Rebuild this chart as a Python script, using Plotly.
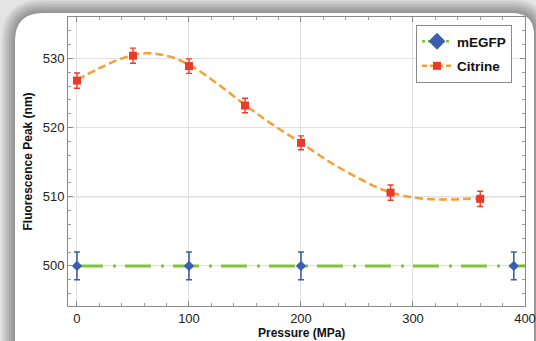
import plotly.graph_objects as go

# ---- data ----
megfp_x = [0, 100, 200, 390]
megfp_y = [500, 500, 500, 500]
megfp_err = [2.0, 2.0, 2.0, 2.0]
megfp_fit_x = [0, 400]
megfp_fit_y = [500, 500]

citrine_x = [0, 50, 100, 150, 200, 280, 360]
citrine_y = [526.8, 530.4, 528.9, 523.2, 517.8, 510.6, 509.7]
citrine_err = [1.1, 1.1, 1.05, 1.05, 1.0, 1.1, 1.1]

citrine_fit_x = [0, 20, 40, 60, 80, 100, 125, 150, 175, 200, 225, 250, 275, 300, 325, 350, 360]
citrine_fit_y = [526.9, 528.6, 530.0, 530.75, 530.4, 529.1, 526.4, 523.3, 520.4, 517.8,
                 515.1, 512.8, 510.9, 509.9, 509.6, 509.7, 509.8]

x_ticks = [0, 100, 200, 300, 400]
y_ticks = [500, 510, 520, 530]
ref_line_y = 510

# ---- geometry helpers (pixel -> paper) ----
W, H = 536, 341
ML, MR, MT, MB = 68, 11, 17, 35
PW, PH = W - ML - MR, H - MT - MB


def px(x):
    return (x - ML) / PW


def py(y):
    return 1 - (y - MT) / PH


def rrect(x0, y0, x1, y1, r0, r1):
    pts = [
        f"M {px(x0)} {py(y0 + r0)}",
        f"Q {px(x0)} {py(y0)} {px(x0 + r0)} {py(y0)}",
        f"L {px(x1 - r1)} {py(y0)}",
        f"Q {px(x1)} {py(y0)} {px(x1)} {py(y0 + r1)}",
        f"L {px(x1)} {py(y1)}",
        f"L {px(x0)} {py(y1)}",
        "Z",
    ]
    return " ".join(pts)


FONT = "Liberation Sans, Arial, Helvetica, sans-serif"

fig = go.Figure()

# fit lines
fig.add_trace(go.Scatter(
    x=megfp_fit_x, y=megfp_fit_y, mode="lines", showlegend=False,
    line=dict(color="#7cc734", width=3, dash="26px,10px,3px,9px"),
    hoverinfo="skip"))
fig.add_trace(go.Scatter(
    x=citrine_fit_x, y=citrine_fit_y, mode="lines", showlegend=False,
    line=dict(color="#f7a033", width=2.5, dash="8px,4px", shape="spline", smoothing=1.0),
    hoverinfo="skip"))

# data points
fig.add_trace(go.Scatter(
    x=megfp_x, y=megfp_y, mode="markers", showlegend=False,
    marker=dict(symbol="diamond", size=8, color="#3b5fae"),
    error_y=dict(type="data", array=megfp_err, color="#3b5fae", thickness=1.6, width=3)))
fig.add_trace(go.Scatter(
    x=citrine_x, y=citrine_y, mode="markers", showlegend=False,
    marker=dict(symbol="square", size=8, color="#ea3b2a"),
    error_y=dict(type="data", array=citrine_err, color="#ea3b2a", thickness=1.4, width=3)))

# legend entries
fig.add_trace(go.Scatter(
    x=[None], y=[None], mode="lines+markers", name="mEGFP", legendgroup="a",
    line=dict(color="#7cc734", width=2.5, dash="3px,3px"),
    marker=dict(symbol="diamond", size=13, color="#3b5fae")))
fig.add_trace(go.Scatter(
    x=[None], y=[None], mode="lines+markers", name="Citrine", legendgroup="b",
    line=dict(color="#f7a033", width=2.5, dash="5px,3px"),
    marker=dict(symbol="square", size=8, color="#ea3b2a")))

# card + shadow
shapes = []
n = 9
for i in range(n):
    e = (n - i) * 1.5
    shapes.append(dict(type="path", xref="paper", yref="paper", layer="below",
                       path=rrect(15 - e, 13 - e, 534 + e, 380, 28 + e, 22 + e),
                       fillcolor="rgba(0,0,0,0.045)", line=dict(width=0)))
shapes.append(dict(type="path", xref="paper", yref="paper", layer="below",
                   path=rrect(15, 13, 534, 380, 28, 22),
                   fillcolor="white", line=dict(width=0)))
shapes.append(dict(type="line", xref="paper", yref="y", layer="below",
                   x0=0, x1=1, y0=ref_line_y, y1=ref_line_y,
                   line=dict(color="#b0b0b0", width=1)))

axis_common = dict(
    showline=True, linecolor="#8a8a8a", linewidth=1, mirror="allticks",
    ticks="inside", ticklen=5, tickcolor="#8a8a8a", tickwidth=1,
    showgrid=True, gridcolor="#e2e2e2", gridwidth=1, zeroline=False,
    tickfont=dict(family=FONT, size=13, color="#222222"),
)

fig.update_layout(
    width=W, height=H,
    margin=dict(l=ML, r=MR, t=MT, b=MB, autoexpand=False),
    paper_bgcolor="#e4e4e4",
    plot_bgcolor="white",
    shapes=shapes,
    xaxis=dict(range=[-8, 400], tickvals=x_ticks, **axis_common,
               minor=dict(dtick=20, tick0=0, ticks="inside", ticklen=3, tickcolor="#9a9a9a", showgrid=False)),
    yaxis=dict(range=[494.2, 536], tickvals=y_ticks, **axis_common,
               minor=dict(dtick=2, tick0=0, ticks="inside", ticklen=3, tickcolor="#9a9a9a", showgrid=False)),
    legend=dict(x=px(416), y=py(25), xanchor="left", yanchor="top",
                bgcolor="white", bordercolor="#8a8a8a", borderwidth=1,
                font=dict(family=FONT, size=13.5, color="#111111", weight="bold"),
                entrywidth=100, tracegroupgap=4, traceorder="grouped"),
    annotations=[
        dict(text="<b>Pressure (MPa)</b>", xref="paper", yref="paper",
             x=px(301), y=py(333), xanchor="center", yanchor="middle", showarrow=False,
             font=dict(family=FONT, size=12, color="#111111")),
        dict(text="<b>Fluorescence Peak (nm)</b>", xref="paper", yref="paper",
             x=px(27), y=py(161.5), xanchor="center", yanchor="middle", showarrow=False,
             textangle=-90, font=dict(family=FONT, size=12, color="#111111")),
    ],
    showlegend=True,
)

fig.write_html(
    "out.html",
    config={"displayModeBar": False},
    post_script="document.body.style.margin='0';document.body.style.overflow='hidden';",
)
